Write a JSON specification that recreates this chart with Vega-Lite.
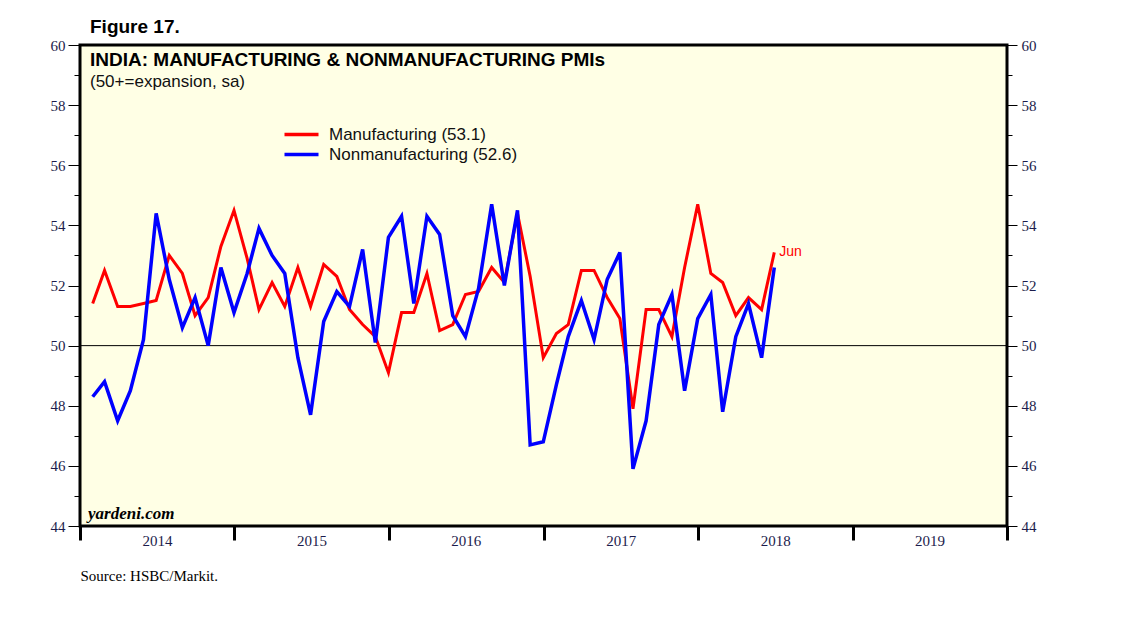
{
  "$schema": "https://vega.github.io/schema/vega-lite/v6.json",
  "width": 927,
  "height": 481,
  "autosize": "none",
  "padding": {"left": 80, "top": 45, "right": 131, "bottom": 97},
  "background": "white",
  "title": {
    "text": "Figure 17.",
    "anchor": "start",
    "frame": "group",
    "dx": 10,
    "offset": -14,
    "baseline": "alphabetic",
    "font": "Liberation Sans",
    "fontSize": 19,
    "fontWeight": "bold",
    "color": "black"
  },
  "datasets": {
    "pmi": [
      {"date": "2014-01-31", "Manufacturing": 51.4, "Nonmanufacturing": 48.3},
      {"date": "2014-02-28", "Manufacturing": 52.5, "Nonmanufacturing": 48.8},
      {"date": "2014-03-31", "Manufacturing": 51.3, "Nonmanufacturing": 47.5},
      {"date": "2014-04-30", "Manufacturing": 51.3, "Nonmanufacturing": 48.5},
      {"date": "2014-05-31", "Manufacturing": 51.4, "Nonmanufacturing": 50.2},
      {"date": "2014-06-30", "Manufacturing": 51.5, "Nonmanufacturing": 54.4},
      {"date": "2014-07-31", "Manufacturing": 53.0, "Nonmanufacturing": 52.2},
      {"date": "2014-08-31", "Manufacturing": 52.4, "Nonmanufacturing": 50.6},
      {"date": "2014-09-30", "Manufacturing": 51.0, "Nonmanufacturing": 51.6},
      {"date": "2014-10-31", "Manufacturing": 51.6, "Nonmanufacturing": 50.0},
      {"date": "2014-11-30", "Manufacturing": 53.3, "Nonmanufacturing": 52.6},
      {"date": "2014-12-31", "Manufacturing": 54.5, "Nonmanufacturing": 51.1},
      {"date": "2015-01-31", "Manufacturing": 52.9, "Nonmanufacturing": 52.4},
      {"date": "2015-02-28", "Manufacturing": 51.2, "Nonmanufacturing": 53.9},
      {"date": "2015-03-31", "Manufacturing": 52.1, "Nonmanufacturing": 53.0},
      {"date": "2015-04-30", "Manufacturing": 51.3, "Nonmanufacturing": 52.4},
      {"date": "2015-05-31", "Manufacturing": 52.6, "Nonmanufacturing": 49.6},
      {"date": "2015-06-30", "Manufacturing": 51.3, "Nonmanufacturing": 47.7},
      {"date": "2015-07-31", "Manufacturing": 52.7, "Nonmanufacturing": 50.8},
      {"date": "2015-08-31", "Manufacturing": 52.3, "Nonmanufacturing": 51.8},
      {"date": "2015-09-30", "Manufacturing": 51.2, "Nonmanufacturing": 51.3},
      {"date": "2015-10-31", "Manufacturing": 50.7, "Nonmanufacturing": 53.2},
      {"date": "2015-11-30", "Manufacturing": 50.3, "Nonmanufacturing": 50.1},
      {"date": "2015-12-31", "Manufacturing": 49.1, "Nonmanufacturing": 53.6},
      {"date": "2016-01-31", "Manufacturing": 51.1, "Nonmanufacturing": 54.3},
      {"date": "2016-02-29", "Manufacturing": 51.1, "Nonmanufacturing": 51.4},
      {"date": "2016-03-31", "Manufacturing": 52.4, "Nonmanufacturing": 54.3},
      {"date": "2016-04-30", "Manufacturing": 50.5, "Nonmanufacturing": 53.7},
      {"date": "2016-05-31", "Manufacturing": 50.7, "Nonmanufacturing": 51.0},
      {"date": "2016-06-30", "Manufacturing": 51.7, "Nonmanufacturing": 50.3},
      {"date": "2016-07-31", "Manufacturing": 51.8, "Nonmanufacturing": 51.9},
      {"date": "2016-08-31", "Manufacturing": 52.6, "Nonmanufacturing": 54.7},
      {"date": "2016-09-30", "Manufacturing": 52.1, "Nonmanufacturing": 52.0},
      {"date": "2016-10-31", "Manufacturing": 54.4, "Nonmanufacturing": 54.5},
      {"date": "2016-11-30", "Manufacturing": 52.3, "Nonmanufacturing": 46.7},
      {"date": "2016-12-31", "Manufacturing": 49.6, "Nonmanufacturing": 46.8},
      {"date": "2017-01-31", "Manufacturing": 50.4, "Nonmanufacturing": 48.7},
      {"date": "2017-02-28", "Manufacturing": 50.7, "Nonmanufacturing": 50.3},
      {"date": "2017-03-31", "Manufacturing": 52.5, "Nonmanufacturing": 51.5},
      {"date": "2017-04-30", "Manufacturing": 52.5, "Nonmanufacturing": 50.2},
      {"date": "2017-05-31", "Manufacturing": 51.6, "Nonmanufacturing": 52.2},
      {"date": "2017-06-30", "Manufacturing": 50.9, "Nonmanufacturing": 53.1},
      {"date": "2017-07-31", "Manufacturing": 47.9, "Nonmanufacturing": 45.9},
      {"date": "2017-08-31", "Manufacturing": 51.2, "Nonmanufacturing": 47.5},
      {"date": "2017-09-30", "Manufacturing": 51.2, "Nonmanufacturing": 50.7},
      {"date": "2017-10-31", "Manufacturing": 50.3, "Nonmanufacturing": 51.7},
      {"date": "2017-11-30", "Manufacturing": 52.6, "Nonmanufacturing": 48.5},
      {"date": "2017-12-31", "Manufacturing": 54.7, "Nonmanufacturing": 50.9},
      {"date": "2018-01-31", "Manufacturing": 52.4, "Nonmanufacturing": 51.7},
      {"date": "2018-02-28", "Manufacturing": 52.1, "Nonmanufacturing": 47.8},
      {"date": "2018-03-31", "Manufacturing": 51.0, "Nonmanufacturing": 50.3},
      {"date": "2018-04-30", "Manufacturing": 51.6, "Nonmanufacturing": 51.4},
      {"date": "2018-05-31", "Manufacturing": 51.2, "Nonmanufacturing": 49.6},
      {"date": "2018-06-30", "Manufacturing": 53.1, "Nonmanufacturing": 52.6}
    ],
    "one": [{}]
  },
  "layer": [
    {
      "data": {"name": "one"},
      "mark": {"type": "rule", "color": "black", "strokeWidth": 1},
      "encoding": {
        "y": {
          "datum": 50,
          "type": "quantitative",
          "scale": {"domain": [44, 60], "nice": false, "zero": false},
          "axis": {
            "orient": "left",
            "values": [44, 46, 48, 50, 52, 54, 56, 58, 60],
            "tickSize": 12,
            "labelPadding": 3,
            "title": null
          }
        }
      }
    },
    {
      "data": {"name": "pmi", "format": {"parse": {"date": "date"}}},
      "transform": [
        {"fold": ["Manufacturing", "Nonmanufacturing"], "as": ["series", "pmi"]}
      ],
      "mark": {"type": "line", "strokeJoin": "miter", "clip": true},
      "encoding": {
        "x": {
          "field": "date",
          "type": "temporal",
          "scale": {
            "type": "utc",
            "domain": [
              {"year": 2014, "month": 1, "date": 1, "utc": true},
              {"year": 2020, "month": 1, "date": 1, "utc": true}
            ]
          },
          "axis": {
            "values": [
              {"year": 2014, "month": 1, "date": 1, "utc": true},
              {"year": 2015, "month": 1, "date": 1, "utc": true},
              {"year": 2016, "month": 1, "date": 1, "utc": true},
              {"year": 2017, "month": 1, "date": 1, "utc": true},
              {"year": 2018, "month": 1, "date": 1, "utc": true},
              {"year": 2019, "month": 1, "date": 1, "utc": true},
              {"year": 2020, "month": 1, "date": 1, "utc": true}
            ],
            "labelExpr": "utcyear(datum.value) >= 2020 ? '' : utcFormat(datum.value, '%Y')",
            "labelOffset": 77,
            "labelAlign": "center",
            "labelPadding": -7,
            "labelOverlap": false,
            "labelFlush": false,
            "tickSize": 14,
            "tickWidth": 3,
            "title": "Source: HSBC/Markit.",
            "titleAnchor": "start",
            "titleAlign": "left",
            "titlePadding": 20,
            "titleFont": "Liberation Serif",
            "titleFontSize": 15,
            "titleFontWeight": "normal",
            "titleColor": "black"
          }
        },
        "y": {
          "field": "pmi",
          "type": "quantitative",
          "axis": {
            "orient": "right",
            "values": [44, 46, 48, 50, 52, 54, 56, 58, 60],
            "tickSize": 10,
            "labelPadding": 4,
            "title": null
          }
        },
        "color": {
          "field": "series",
          "type": "nominal",
          "scale": {"domain": ["Manufacturing", "Nonmanufacturing"], "range": ["#ff0000", "#0000ff"]},
          "legend": {
            "orient": "none",
            "legendX": 213,
            "legendY": 81,
            "title": null,
            "padding": 0,
            "symbolType": "M-3.4,0H3.4",
            "symbolSize": 100,
            "symbolStrokeWidth": 3.5,
            "labelFont": "Liberation Sans",
            "labelFontSize": 17,
            "labelColor": "#111111",
            "labelOffset": 19,
            "labelLimit": 400,
            "rowPadding": 2,
            "labelExpr": "datum.label == 'Manufacturing' ? 'Manufacturing (53.1)' : 'Nonmanufacturing (52.6)'"
          }
        },
        "strokeWidth": {
          "condition": {"test": "datum.series == 'Nonmanufacturing'", "value": 3.5},
          "value": 3
        }
      }
    },
    {
      "data": {"name": "pmi", "format": {"parse": {"date": "date"}}},
      "transform": [
        {"fold": ["Manufacturing", "Nonmanufacturing"], "as": ["series", "pmi"]},
        {"filter": "datum.series == 'Manufacturing' && utcyear(datum.date) == 2018 && utcmonth(datum.date) == 5"}
      ],
      "mark": {"type": "text", "text": "Jun", "align": "left", "baseline": "middle", "dx": 5, "font": "Liberation Sans", "fontSize": 14, "color": "#ff0000"},
      "encoding": {
        "x": {"field": "date", "type": "temporal"},
        "y": {
          "field": "pmi",
          "type": "quantitative",
          "axis": {
            "orient": "left",
            "values": [45, 47, 49, 51, 53, 55, 57, 59],
            "tickSize": 6,
            "labels": false,
            "title": null
          }
        }
      }
    },
    {
      "data": {"name": "one"},
      "mark": {"type": "text", "text": "INDIA: MANUFACTURING & NONMANUFACTURING PMIs", "align": "left", "baseline": "alphabetic", "dx": 10, "dy": 21, "font": "Liberation Sans", "fontSize": 19, "fontWeight": "bold", "color": "black"},
      "encoding": {
        "x": {"datum": {"year": 2014, "month": 1, "date": 1, "utc": true}, "type": "temporal"},
        "y": {
          "datum": 60,
          "type": "quantitative",
          "axis": {
            "orient": "right",
            "values": [45, 47, 49, 51, 53, 55, 57, 59],
            "tickSize": 5,
            "labels": false,
            "title": null
          }
        }
      }
    },
    {
      "data": {"name": "one"},
      "mark": {"type": "text", "text": "(50+=expansion, sa)", "align": "left", "baseline": "alphabetic", "dx": 10, "dy": 42, "font": "Liberation Sans", "fontSize": 17, "color": "#111111"},
      "encoding": {
        "x": {"datum": {"year": 2014, "month": 1, "date": 1, "utc": true}, "type": "temporal"},
        "y": {"datum": 60, "type": "quantitative", "axis": null}
      }
    },
    {
      "data": {"name": "one"},
      "mark": {"type": "text", "text": "yardeni.com", "align": "left", "baseline": "alphabetic", "dx": 8, "dy": -7, "font": "Liberation Serif", "fontSize": 17, "fontWeight": "bold", "fontStyle": "italic", "color": "black"},
      "encoding": {
        "x": {"datum": {"year": 2014, "month": 1, "date": 1, "utc": true}, "type": "temporal"},
        "y": {"datum": 44, "type": "quantitative", "axis": null}
      }
    }
  ],
  "resolve": {"axis": {"y": "independent"}},
  "config": {
    "view": {"stroke": "black", "strokeWidth": 3, "fill": "#ffffe5"},
    "axis": {
      "grid": false,
      "domain": false,
      "tickColor": "black",
      "tickWidth": 1,
      "labelFont": "Liberation Serif",
      "labelFontSize": 15,
      "labelColor": "#1c1c4c"
    }
  }
}
